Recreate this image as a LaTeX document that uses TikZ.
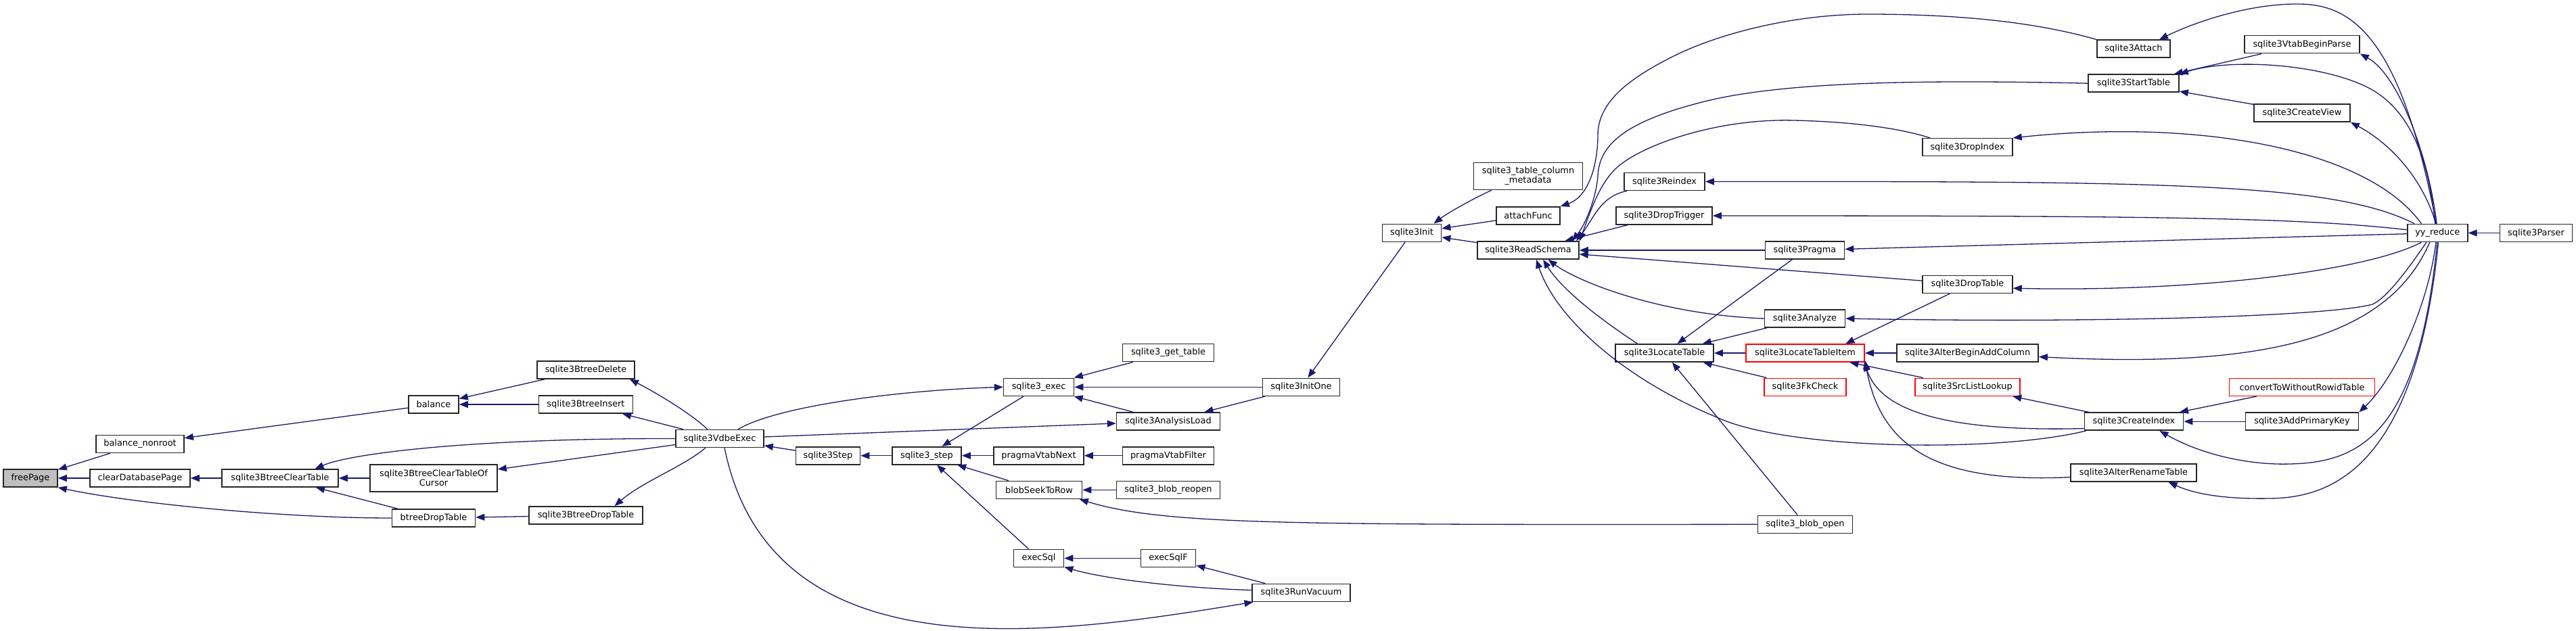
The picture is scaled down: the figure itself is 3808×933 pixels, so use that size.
\documentclass[tikz,border=0pt]{standalone}
\usepackage{fontspec}
\setmainfont{DejaVu Sans}
\usepackage{xcolor}
\usepackage{tikz}
\usetikzlibrary{arrows.meta}
\definecolor{edgeblue}{HTML}{191970}

\begin{document}
\begin{tikzpicture}[
  x=1pt, y=-1pt,
  % ── Style definitions ──
  fn/.style={
    rectangle, draw=black!85, line width=1.6pt, fill=white,
    minimum height=26pt, inner xsep=2pt, inner ysep=0pt,
    align=center, font=\fontsize{12.9}{14}\selectfont
  },
  fnsel/.style={fn, fill=black!25},
  fnred/.style={fn, draw=red},
  fntwo/.style={fn, minimum height=40pt},
  arr/.style={<-, >={Triangle[length=13pt,width=10pt]}, draw=edgeblue, line width=1.3pt}
]
\useasboundingbox (0,0) rectangle (3808,933);

% ─────────── B-tree side ─────────────────────────────────────
\node[fnsel, minimum width=80pt]  (freePage)      at (45,707)     {freePage};
\node[fn, minimum width=130pt]    (balNonroot)    at (207,656.5)  {balance\_nonroot};
\node[fn, minimum width=148pt]    (clearDbPage)   at (207,707)    {clearDatabasePage};
\node[fn, minimum width=172pt]    (btClearTable)  at (414,707)    {sqlite3BtreeClearTable};
\node[fn, minimum width=74pt]     (balance)       at (641,598)    {balance};
\node[fntwo, minimum width=188pt] (btClearCursor) at (641,707)    {sqlite3BtreeClearTableOf\\Cursor};
\node[fn, minimum width=123pt]    (btreeDropTable) at (641,766)   {btreeDropTable};
\node[fn, minimum width=144pt]    (btDelete)      at (866,547)    {sqlite3BtreeDelete};
\node[fn, minimum width=139pt]    (btInsert)      at (866,598)    {sqlite3BtreeInsert};
\node[fn, minimum width=168pt]    (btDropTable)   at (866,762)    {sqlite3BtreeDropTable};

% ─────────── VDBE / exec ─────────────────────────────────────
\node[fn, minimum width=130pt] (vdbeExec)     at (1064,648.5)  {sqlite3VdbeExec};
\node[fn, minimum width=95pt]  (s3Step)       at (1224,673.7)  {sqlite3Step};
\node[fn, minimum width=102pt] (stepApi)      at (1370,673.7)  {sqlite3\_step};
\node[fn, minimum width=104pt] (execApi)      at (1535.6,572.3) {sqlite3\_exec};
\node[fn, minimum width=133pt] (vtabNext)     at (1535.5,673.7) {pragmaVtabNext};
\node[fn, minimum width=127pt] (blobSeek)     at (1536,724.4)  {blobSeekToRow};
\node[fn, minimum width=74pt]  (execSql)      at (1535.5,825.4) {execSql};
\node[fn, minimum width=135pt] (getTable)     at (1727,521.6)  {sqlite3\_get\_table};
\node[fn, minimum width=153pt] (analysisLoad) at (1727,623)    {sqlite3AnalysisLoad};
\node[fn, minimum width=135pt] (vtabFilter)   at (1727,673.7)  {pragmaVtabFilter};
\node[fn, minimum width=153pt] (blobReopen)   at (1727,724.4)  {sqlite3\_blob\_reopen};
\node[fn, minimum width=81pt]  (execSqlF)     at (1727,825.4)  {execSqlF};
\node[fn, minimum width=114pt] (initOne)      at (1923.5,572.3) {sqlite3InitOne};
\node[fn, minimum width=145pt] (runVacuum)    at (1923.5,876.4) {sqlite3RunVacuum};

% ─────────── Schema / parser side ────────────────────────────
\node[fn, minimum width=87pt]     (s3Init)      at (2087,344.3)   {sqlite3Init};
\node[fntwo, minimum width=161pt] (colMeta)     at (2259,260.5)   {sqlite3\_table\_column\\\_metadata};
\node[fn, minimum width=94pt]     (attachFunc)  at (2259,319)     {attachFunc};
\node[fn, minimum width=150pt]    (readSchema)  at (2259,370)     {sqlite3ReadSchema};
\node[fn, minimum width=119pt]    (reindex)     at (2460.6,268.5) {sqlite3Reindex};
\node[fn, minimum width=142pt]    (dropTrigger) at (2460,319)     {sqlite3DropTrigger};
\node[fn, minimum width=145pt]    (locateTable) at (2460.6,522)   {sqlite3LocateTable};
\node[fn, minimum width=117pt]    (pragma)      at (2668,370)     {sqlite3Pragma};
\node[fn, minimum width=119pt]    (analyze)     at (2668,471)     {sqlite3Analyze};
\node[fnred, minimum width=175pt] (locateItem)  at (2668.5,522)   {sqlite3LocateTableItem};
\node[fnred, minimum width=121pt] (fkCheck)     at (2668.5,572.3) {sqlite3FkCheck};
\node[fn, minimum width=140pt]    (blobOpen)    at (2668.5,775.3) {sqlite3\_blob\_open};
\node[fn, minimum width=133pt]    (dropIndex)   at (2908.4,217.7) {sqlite3DropIndex};
\node[fn, minimum width=133pt]    (dropTable)   at (2908.4,420.3) {sqlite3DropTable};
\node[fn, minimum width=209pt]    (alterAddCol) at (2908.6,522)   {sqlite3AlterBeginAddColumn};
\node[fnred, minimum width=155pt] (srcLookup)   at (2908.6,572.3) {sqlite3SrcListLookup};
\node[fn, minimum width=108pt]    (attach)      at (3154,72.3)    {sqlite3Attach};
\node[fn, minimum width=134pt]    (startTable)  at (3154,123.2)   {sqlite3StartTable};
\node[fn, minimum width=146pt]    (createIndex) at (3154.5,623.2) {sqlite3CreateIndex};
\node[fn, minimum width=186pt]    (alterRename) at (3154,699)     {sqlite3AlterRenameTable};
\node[fn, minimum width=170pt]    (vtabParse)   at (3403,65.7)    {sqlite3VtabBeginParse};
\node[fn, minimum width=142pt]    (createView)  at (3403,167)     {sqlite3CreateView};
\node[fnred, minimum width=215pt] (convWoRowid) at (3403,572.3)   {convertToWithoutRowidTable};
\node[fn, minimum width=167pt]    (addPk)       at (3403,623.2)   {sqlite3AddPrimaryKey};
\node[fn, minimum width=89pt]     (yyReduce)    at (3603.3,344.5) {yy\_reduce};
\node[fn, minimum width=107pt]    (parser)      at (3749,344.5)   {sqlite3Parser};

% ─────────── B-tree calls ────────────────────────────────────
\draw[arr] (freePage) -- (balNonroot);
\draw[arr] (freePage) -- (clearDbPage);
\draw[arr] (freePage.south east) .. controls (200,745) and (420,766) .. (btreeDropTable.west);
\draw[arr] (balNonroot) -- (balance);
\draw[arr] (clearDbPage) -- (btClearTable);
\draw[arr] (btClearTable) -- (btClearCursor);
\draw[arr] (btClearTable) -- (btreeDropTable);
\draw[arr] (btClearTable.15) .. controls (520,670) and (700,648) .. (vdbeExec.west);
\draw[arr] (balance) -- (btDelete);
\draw[arr] (balance) -- (btInsert);
\draw[arr] (btClearCursor) -- (vdbeExec);
\draw[arr] (btreeDropTable) -- (btDropTable);
\draw[arr] (btDelete.-12) .. controls (965,578) and (1020,610) .. (vdbeExec.143);
\draw[arr] (btInsert) -- (vdbeExec);
\draw[arr] (btDropTable.18) .. controls (950,712) and (1010,690) .. (vdbeExec.213);

% ─────────── VDBE / exec calls ───────────────────────────────
\draw[arr] (vdbeExec) -- (s3Step);
\draw[arr] (s3Step) -- (stepApi);
\draw[arr] (stepApi) -- (execApi);
\draw[arr] (stepApi) -- (vtabNext);
\draw[arr] (stepApi) -- (blobSeek);
\draw[arr] (stepApi) -- (execSql);
\draw[arr] (execApi) -- (getTable);
\draw[arr] (execApi) -- (initOne);
\draw[arr] (execApi) -- (analysisLoad);
\draw[arr] (execApi.west) .. controls (1330,577) and (1150,600) .. (vdbeExec.27);
\draw[arr] (analysisLoad) -- (vdbeExec);
\draw[arr] (analysisLoad) -- (initOne);
\draw[arr] (runVacuum.191) .. controls (1550,940) and (1140,1000) .. (vdbeExec.-63);
\draw[arr] (vtabNext) -- (vtabFilter);
\draw[arr] (blobSeek) -- (blobReopen);
\draw[arr] (blobSeek.-13) .. controls (1720,776) and (1900,776) .. (blobOpen.west);
\draw[arr] (execSql) -- (execSqlF);
\draw[arr] (execSql.-19) .. controls (1640,858) and (1760,870) .. (runVacuum.177);
\draw[arr] (execSqlF) -- (runVacuum);
\draw[arr] (initOne) -- (s3Init);

% ─────────── Schema calls ────────────────────────────────────
\draw[arr] (s3Init.23) .. controls (2140,315) and (2175,295) .. (colMeta.-159);
\draw[arr] (s3Init) -- (attachFunc);
\draw[arr] (s3Init) -- (readSchema);
\draw[arr] (attachFunc.north east) .. controls (2350,290) and (2362,240) .. (2362,200)
    .. controls (2362,150) and (2410,115) .. (2474,83)
    .. controls (2540,50) and (2650,21) .. (2761,21)
    .. controls (2880,21) and (3000,30) .. (attach.north west);
\draw[arr] (readSchema.12) .. controls (2345,330) and (2360,290) .. (2362,260)
    .. controls (2364,215) and (2400,180) .. (2520,150)
    .. controls (2640,120) and (2850,118) .. (startTable.west);
\draw[arr] (readSchema.10) .. controls (2352,310) and (2365,270) .. (2391,247)
    .. controls (2430,213) and (2540,175) .. (2652,178)
    .. controls (2740,180) and (2810,190) .. (dropIndex.166);
\draw[arr] (readSchema.11) .. controls (2355,325) and (2365,290) .. (reindex.194);
\draw[arr] (readSchema) -- (dropTrigger);
\draw[arr] (readSchema) -- (pragma);
\draw[arr] (readSchema) -- (dropTable);
\draw[arr] (readSchema.-25) .. controls (2330,415) and (2450,465) .. (analyze.west);
\draw[arr] (readSchema.-32) .. controls (2310,430) and (2370,475) .. (locateTable.161);
\draw[arr] (readSchema.-49) .. controls (2300,470) and (2400,560) .. (2538,617)
    .. controls (2640,665) and (2950,670) .. (createIndex.191);
\draw[arr] (locateTable) -- (pragma);
\draw[arr] (locateTable) -- (analyze);
\draw[arr] (locateTable) -- (locateItem);
\draw[arr] (locateTable) -- (fkCheck);
\draw[arr] (locateTable) -- (blobOpen);
\draw[arr] (locateItem) -- (alterAddCol);
\draw[arr] (locateItem.13) -- (dropTable.-152);
\draw[arr] (locateItem) -- (srcLookup);
\draw[arr] (locateItem.-9) .. controls (2775,590) and (2830,640) .. (createIndex.188);
\draw[arr] (locateItem.-7) .. controls (2780,660) and (2860,715) .. (alterRename.184);
\draw[arr] (srcLookup) -- (createIndex);
\draw[arr] (createIndex) -- (convWoRowid);
\draw[arr] (createIndex) -- (addPk);
\draw[arr] (startTable) -- (vtabParse);
\draw[arr] (startTable) -- (createView);
\draw[arr] (yyReduce) -- (parser);

% ─────────── yy_reduce fan-out ───────────────────────────────
\draw[arr] (pragma) -- (yyReduce);
\draw[arr] (dropTrigger.east) .. controls (3200,319) and (3400,322) .. (yyReduce.174);
\draw[arr] (reindex.east) .. controls (3200,268) and (3450,270) .. (yyReduce.158);
\draw[arr] (dropIndex.north east) .. controls (3250,175) and (3500,220) .. (yyReduce.150);
\draw[arr] (startTable.north east) .. controls (3300,85) and (3440,95) .. (3507,133)
    .. controls (3570,170) and (3592,250) .. (yyReduce.105);
\draw[arr] (attach.20) .. controls (3250,30) and (3330,5) .. (3398,6)
    .. controls (3480,6) and (3550,60) .. (yyReduce.98);
\draw[arr] (vtabParse.south east) .. controls (3545,110) and (3590,230) .. (yyReduce.95);
\draw[arr] (createView.south east) .. controls (3530,210) and (3580,260) .. (yyReduce.100);
\draw[arr] (dropTable.-5) .. controls (3250,432) and (3500,400) .. (yyReduce.-150);
\draw[arr] (analyze.east) .. controls (3100,478) and (3440,468) .. (3507,450)
    .. controls (3530,440) and (3565,390) .. (yyReduce.-140);
\draw[arr] (alterAddCol.-3) .. controls (3350,545) and (3530,500) .. (yyReduce.-130);
\draw[arr] (addPk.north east) .. controls (3540,560) and (3590,450) .. (yyReduce.-100);
\draw[arr] (createIndex.-20) .. controls (3250,670) and (3320,688) .. (3385,686)
    .. controls (3490,684) and (3575,640) .. (yyReduce.-92);
\draw[arr] (alterRename.-15) .. controls (3250,733) and (3300,738) .. (3355,737)
    .. controls (3440,736) and (3570,700) .. (yyReduce.-85);
\end{tikzpicture}
\end{document}
